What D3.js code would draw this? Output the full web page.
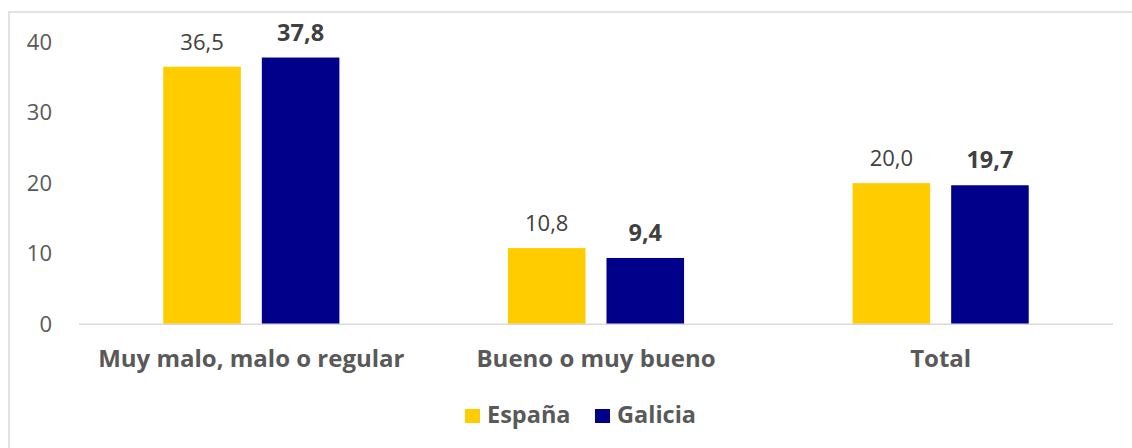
<!DOCTYPE html>
<html><head><meta charset="utf-8">
<script src="https://cdn.jsdelivr.net/npm/d3@7"></script>
<style>body{margin:0;background:#fff}svg{display:block;font-family:"Open Sans",sans-serif}</style>
</head><body>
<svg id="c" width="1132" height="448"></svg>
<script>
const categories = ["Muy malo, malo o regular", "Bueno o muy bueno", "Total"];
const seriesNames = ["España", "Galicia"];
const espana = [36.5, 10.8, 20.0];
const galicia = [37.8, 9.4, 19.7];
const yTicks = [0, 10, 20, 30, 40];
const colors = ["#FFCC00", "#00008B"];

(function () {
const svg = d3.select("#c");
svg.append("rect").attr("x", 9).attr("y", 12).attr("width", 1140).attr("height", 460)
  .attr("fill", "none").attr("stroke", "#D9D9D9").attr("stroke-width", 1.5);

const mLeft = 79, mRight = 1113, mTop = 42, base = 324.3;
const y = d3.scaleLinear().domain([0, 40]).range([base, mTop]);
const x0 = d3.scaleBand().domain(categories).range([mLeft, mRight]).paddingInner(0.489).paddingOuter(0.2445);
const x1 = d3.scaleBand().domain(seriesNames).range([0, x0.bandwidth()]).paddingInner(0.213).paddingOuter(0);

const fmt = v => d3.format(".1f")(v).replace(".", ",");

const yAxis = d3.axisLeft(y).tickValues(yTicks).tickSize(0).tickPadding(0).tickFormat(d3.format("d"));
const ya = svg.append("g").attr("transform", `translate(52,0)`).call(yAxis);
ya.select(".domain").remove();
ya.selectAll("text").attr("font-size", 22).attr("fill", "#595959").attr("font-family", "Open Sans");

const data = categories.map((c, i) => ({c, vals: [espana[i], galicia[i]]}));
const g = svg.append("g");
data.forEach(d => {
  d.vals.forEach((v, j) => {
    const s = seriesNames[j];
    g.append("rect").attr("x", x0(d.c) + x1(s)).attr("y", y(v))
      .attr("width", x1.bandwidth()).attr("height", base - y(v)).attr("fill", colors[j]);
    g.append("text").attr("x", x0(d.c) + x1(s) + x1.bandwidth() / 2).attr("y", y(v) - 17)
      .attr("text-anchor", "middle").attr("font-size", j === 1 ? 23.5 : 22)
      .attr("font-weight", j === 1 ? 700 : 400).attr("fill", "#404040").text(fmt(v));
  });
});

svg.append("line").attr("x1", mLeft).attr("x2", mRight).attr("y1", base).attr("y2", base)
  .attr("stroke", "#D9D9D9").attr("stroke-width", 1.5);

const xAxis = d3.axisBottom(x0).tickSize(0).tickPadding(0);
const xa = svg.append("g").attr("transform", `translate(0,${base})`).call(xAxis);
xa.select(".domain").remove();
xa.selectAll("text").attr("dy", null).attr("y", 43).attr("font-size", 24).attr("font-weight", 700)
  .attr("fill", "#595959").attr("font-family", "Open Sans");

const legX = [465, 595];
seriesNames.forEach((s, j) => {
  svg.append("rect").attr("x", legX[j]).attr("y", 409).attr("width", 15).attr("height", 14).attr("fill", colors[j]);
  svg.append("text").attr("x", legX[j] + 22).attr("y", 423).attr("font-size", 23.5).attr("font-weight", 700)
    .attr("fill", "#595959").text(s);
});
})();
</script>
</body></html>
